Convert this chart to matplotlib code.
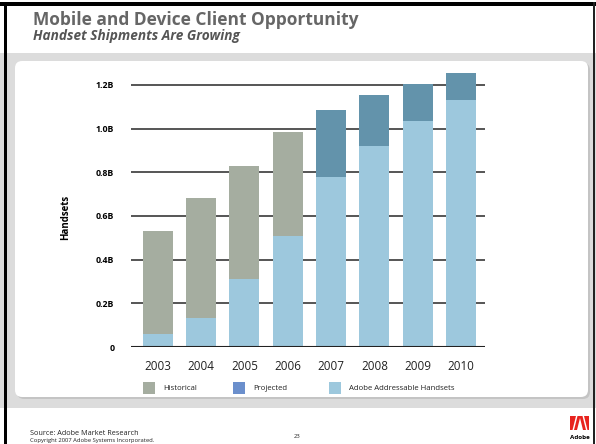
import matplotlib.pyplot as plt
from matplotlib.patches import Rectangle, FancyBboxPatch, Polygon

plt.rcParams['font.family'] = ['Open Sans', 'DejaVu Sans']

years = ["2003", "2004", "2005", "2006", "2007", "2008", "2009", "2010"]
total_handsets = [0.53, 0.68, 0.83, 0.985, 1.085, 1.155, 1.205, 1.255]
addressable = [0.06, 0.135, 0.31, 0.51, 0.78, 0.92, 1.035, 1.13]
is_projected = [False, False, False, False, True, True, True, True]
y_ticks = [0, 0.2, 0.4, 0.6, 0.8, 1.0, 1.2]
y_tick_labels = ["0", "0.2B", "0.4B", "0.6B", "0.8B", "1.0B", "1.2B"]
legend_labels = ["Historical", "Projected", "Adobe Addressable Handsets"]

C_HIST = "#a5ada0"
C_PROJ = "#6393ab"
C_PROJ_KEY = "#6b8fcc"
C_ADDR = "#9dc8dd"

W, H = 596, 444
fig = plt.figure(figsize=(W / 100, H / 100), dpi=100)
fig.patch.set_facecolor("white")


def px(x, y, w, h):
    # pixel box (from top-left) -> figure fraction rect
    return (x / W, 1 - (y + h) / H, w / W, h / H)


def rect(x, y, w, h, **kw):
    fx, fy, fw, fh = px(x, y, w, h)
    fig.patches.append(Rectangle((fx, fy), fw, fh, transform=fig.transFigure, **kw))


def fpt(x, y):
    return (x / W, 1 - y / H)


# slide background: grey band, rounded white panel, black frame
rect(0, 53, W, 355, facecolor="#dcdcdc", edgecolor="none", zorder=0)
for dx, dy, col in [(2, 2, "#c4c4c4"), (0, 0, "white")]:
    fx, fy, fw, fh = px(15 + dx, 61 + dy, 573, 336)
    fig.patches.append(FancyBboxPatch((fx, fy), fw, fh, boxstyle="round,pad=0,rounding_size=0.012",
                                      transform=fig.transFigure, facecolor=col, edgecolor="none",
                                      zorder=1, mutation_aspect=W / H))
rect(0, 2, W, 4, facecolor="black", edgecolor="none", zorder=5)
rect(4, 2, 3, H, facecolor="black", edgecolor="none", zorder=5)
rect(593, 2, 2, H, facecolor="#222222", edgecolor="none", zorder=5)

fig.text(33 / W, 1 - 25 / H, "Mobile and Device Client Opportunity", fontsize=12.5,
         fontweight="bold", color="#666666", va="baseline")
fig.text(33 / W, 1 - 40 / H, "Handset Shipments Are Growing", fontsize=9.8,
         fontweight="bold", style="italic", color="#555555", va="baseline")

ax = fig.add_axes(px(131, 63, 354, 284))
ax.set_zorder(3)
ax.patch.set_visible(False)

x = range(len(years))
top_colors = [C_PROJ if p else C_HIST for p in is_projected]
ax.bar(x, total_handsets, width=0.69, color=top_colors, zorder=2)
ax.bar(x, addressable, width=0.69, color=C_ADDR, zorder=3)

for t in y_ticks[1:]:
    ax.axhline(t, color="#555555", lw=1.4, zorder=1)
ax.axhline(0, color="#222222", lw=1.5, zorder=4)

ax.set_xlim(-0.615, 7.55)
ax.set_ylim(0, 1.3)
ax.set_yticks(y_ticks)
ax.set_yticklabels(y_tick_labels, fontsize=6.3, fontweight="bold")
ax.set_xticks(list(x))
ax.set_xticklabels(years, fontsize=8.4, color="#222222")
ax.tick_params(axis="y", length=0, pad=12)
ax.tick_params(axis="x", length=0, pad=9)
for s in ax.spines.values():
    s.set_visible(False)
ax.set_ylabel("Handsets", fontsize=7, fontweight="bold")
ax.yaxis.set_label_coords(-60 / 354, (347 - 217) / 284)

# legend row
legend_keys = [C_HIST, C_PROJ_KEY, C_ADDR]
legend_x = [143, 233, 329]
for lx, col, lab in zip(legend_x, legend_keys, legend_labels):
    rect(lx, 382, 12, 12, facecolor=col, edgecolor="none", zorder=4)
    fig.text((lx + 20) / W, 1 - 388 / H, lab, fontsize=5.6, va="center", color="#222222")

# footer
fig.text(30 / W, 1 - 435 / H, "Source: Adobe Market Research", fontsize=5.2, color="#222222", va="baseline")
fig.text(30 / W, 1 - 442 / H, "Copyright 2007 Adobe Systems Incorporated.", fontsize=4.2,
         color="#222222", va="baseline")
fig.text(297 / W, 1 - 438 / H, "23", fontsize=4.2, color="#222222", ha="center", va="baseline")

# Adobe mark: red block with a white "A" cut out
rect(570, 416, 19, 14, facecolor="#e8231e", edgecolor="none", zorder=4)
fig.patches.append(Polygon([fpt(577, 430), fpt(580, 418), fpt(583, 430)], closed=True,
                           transform=fig.transFigure, facecolor="white", edgecolor="none", zorder=5))
fig.patches.append(Polygon([fpt(576, 416), fpt(577.5, 416), fpt(574, 430), fpt(572.5, 430)], closed=True,
                           transform=fig.transFigure, facecolor="white", edgecolor="none", zorder=5))
fig.patches.append(Polygon([fpt(582.5, 416), fpt(584, 416), fpt(587.5, 430), fpt(586, 430)], closed=True,
                           transform=fig.transFigure, facecolor="white", edgecolor="none", zorder=5))
fig.text(579.5 / W, 1 - 439 / H, "Adobe", fontsize=4.5, fontweight="bold", ha="center",
         va="baseline", color="black")

fig.savefig("out.png", dpi=100)
